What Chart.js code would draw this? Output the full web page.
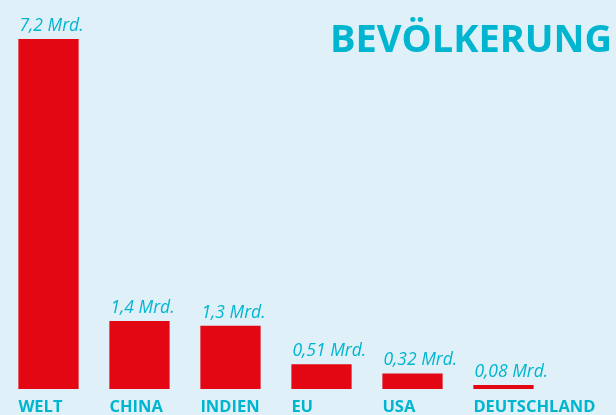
<!DOCTYPE html>
<html>
<head>
<meta charset="utf-8">
<script src="https://cdn.jsdelivr.net/npm/chart.js@4.4.0/dist/chart.umd.min.js"></script>
<style>
  html, body { margin: 0; padding: 0; background: #dff0f8; }
  #wrap { position: relative; width: 616px; height: 415px; }
</style>
</head>
<body>
<div id="wrap"><canvas id="chart" width="616" height="415"></canvas></div>
<script>
// Bevölkerung in Milliarden
const categories = ['WELT', 'CHINA', 'INDIEN', 'EU', 'USA', 'DEUTSCHLAND'];
const values = [7.2, 1.4, 1.3, 0.51, 0.32, 0.08];
const valueLabels = ['7,2 Mrd.', '1,4 Mrd.', '1,3 Mrd.', '0,51 Mrd.', '0,32 Mrd.', '0,08 Mrd.'];
const title = 'BEVÖLKERUNG';

const RED = '#e30613';
const TEAL = '#00b5d0';

// draws value labels above and category names below each bar, left-aligned to the bar
const barLabels = {
  id: 'barLabels',
  afterDatasetsDraw(chart) {
    const ctx = chart.ctx;
    const meta = chart.getDatasetMeta(0);
    ctx.save();
    ctx.textAlign = 'left';
    ctx.textBaseline = 'alphabetic';
    ctx.fillStyle = TEAL;
    meta.data.forEach((bar, i) => {
      const left = bar.x - bar.width / 2;
      ctx.font = 'italic 17.5px "Open Sans"';
      ctx.fillText(valueLabels[i], left + 1, bar.y - 8);
      ctx.font = 'bold 16.5px "Open Sans"';
      ctx.fillText(categories[i], left, 412);
    });
    ctx.font = 'bold 38px "Open Sans"';
    ctx.textAlign = 'right';
    ctx.fillText(title, 612, 52);
    ctx.restore();
  }
};

new Chart(document.getElementById('chart').getContext('2d'), {
  type: 'bar',
  data: {
    labels: categories,
    datasets: [{
      data: values,
      backgroundColor: RED,
      borderWidth: 0,
      barPercentage: 0.662,
      categoryPercentage: 1
    }]
  },
  options: {
    responsive: false,
    animation: false,
    layout: { padding: { left: 3, right: 67, top: 39, bottom: 26 } },
    plugins: {
      legend: { display: false },
      tooltip: { enabled: false }
    },
    scales: {
      x: { display: false },
      y: { display: false, min: 0, max: 7.2 }
    }
  },
  plugins: [barLabels]
});
</script>
</body>
</html>
